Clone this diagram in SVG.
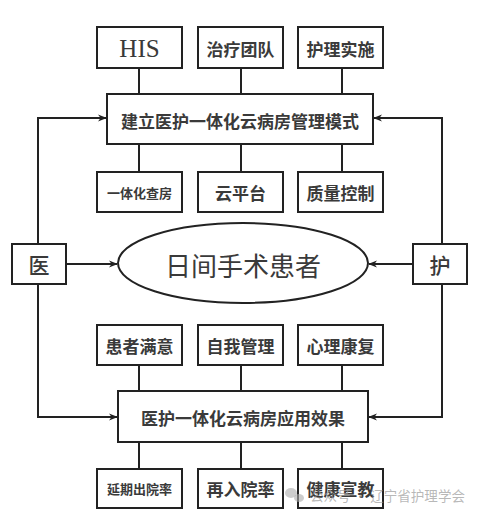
<svg xmlns="http://www.w3.org/2000/svg" width="480" height="514" viewBox="0 0 480 514">
<defs>
<style>
.b{fill:#fff;stroke:#222;stroke-width:2}
.l{fill:none;stroke:#222;stroke-width:2}
.t{font-family:"Noto Sans CJK SC","Liberation Sans",sans-serif;font-weight:700;fill:#3a3a3a;text-anchor:middle;dominant-baseline:central}
.wm{font-family:"Noto Sans CJK SC","Liberation Sans",sans-serif;fill:#999;fill-opacity:0.7;font-size:14px;dominant-baseline:central}
</style>
<marker id="ah" viewBox="0 0 10 10" refX="9" refY="5" markerWidth="9" markerHeight="9" markerUnits="userSpaceOnUse" orient="auto">
<path d="M0,1 L10,5 L0,9 L3,5 Z" fill="#222"/>
</marker>
</defs>
<rect width="480" height="514" fill="#fff"/>
<g id="connectors">
<path class="l" d="M139,68V94M241,68V94M342,68V94"/>
<path class="l" d="M139,144V172M241,144V172M342,144V172"/>
<path class="l" d="M139,365V391M241,365V391M342,365V391"/>
<path class="l" d="M139,442V469M241,442V469M342,442V469"/>
<path class="l" d="M38,244V118H106" marker-end="url(#ah)"/>
<path class="l" d="M442,244V118H374" marker-end="url(#ah)"/>
<path class="l" d="M38,284V417H117" marker-end="url(#ah)"/>
<path class="l" d="M442,284V417H369" marker-end="url(#ah)"/>
<path class="l" d="M66,264H117" marker-end="url(#ah)"/>
<path class="l" d="M413,264H369" marker-end="url(#ah)"/>
</g>
<g id="his"><rect class="b" x="97" y="27" width="85" height="41"/><text class="t" x="139.5" y="48" style="font-family:'Liberation Serif',serif;font-weight:400;font-size:25px">HIS</text></g>
<g id="zhiliao"><rect class="b" x="198" y="27" width="85" height="41"/><text class="t" x="240.5" y="48" font-size="17">治疗团队</text></g>
<g id="huli"><rect class="b" x="298" y="27" width="85" height="41"/><text class="t" x="340.5" y="48" font-size="17">护理实施</text></g>
<g id="model"><rect class="b" x="107" y="94" width="266" height="50"/><text class="t" x="240" y="120" font-size="17">建立医护一体化云病房管理模式</text></g>
<g id="chafang"><rect class="b" x="97" y="172" width="85" height="40"/><text class="t" x="139.5" y="192" font-size="13">一体化查房</text></g>
<g id="cloud"><rect class="b" x="198" y="172" width="85" height="40"/><text class="t" x="240.5" y="192" font-size="17">云平台</text></g>
<g id="quality"><rect class="b" x="298" y="172" width="85" height="40"/><text class="t" x="340.5" y="192" font-size="17">质量控制</text></g>
<g id="yi"><rect class="b" x="12" y="244" width="54" height="40"/><text class="t" x="39" y="264" font-size="21" style="font-weight:500">医</text></g>
<g id="hu"><rect class="b" x="413" y="244" width="54" height="40"/><text class="t" x="440" y="264" font-size="21" style="font-weight:500">护</text></g>
<g id="patient"><ellipse class="b" cx="243" cy="263" rx="125" ry="40"/><text class="t" x="243" y="264" font-size="26" style="font-weight:400">日间手术患者</text></g>
<g id="manyi"><rect class="b" x="97" y="325" width="85" height="40"/><text class="t" x="139.5" y="345" font-size="17">患者满意</text></g>
<g id="ziwo"><rect class="b" x="198" y="325" width="85" height="40"/><text class="t" x="240.5" y="345" font-size="17">自我管理</text></g>
<g id="xinli"><rect class="b" x="298" y="325" width="85" height="40"/><text class="t" x="340.5" y="345" font-size="17">心理康复</text></g>
<g id="effect"><rect class="b" x="118" y="391" width="250" height="51"/><text class="t" x="243" y="417" font-size="17">医护一体化云病房应用效果</text></g>
<g id="yanqi"><rect class="b" x="97" y="469" width="85" height="39"/><text class="t" x="139.5" y="488" font-size="13">延期出院率</text></g>
<g id="zairu"><rect class="b" x="198" y="469" width="85" height="39"/><text class="t" x="240.5" y="488" font-size="17">再入院率</text></g>
<g id="jiankang"><rect class="b" x="298" y="469" width="85" height="39"/><text class="t" x="340.5" y="488" font-size="17">健康宣教</text></g>
<g id="watermark" fill="#aaa" fill-opacity="0.6">
<ellipse cx="291" cy="493" rx="6" ry="5"/><ellipse cx="299" cy="498" rx="5" ry="4"/>
</g>
<text class="wm" x="310" y="495" textLength="155" lengthAdjust="spacingAndGlyphs">公众号 · 辽宁省护理学会</text>
</svg>
